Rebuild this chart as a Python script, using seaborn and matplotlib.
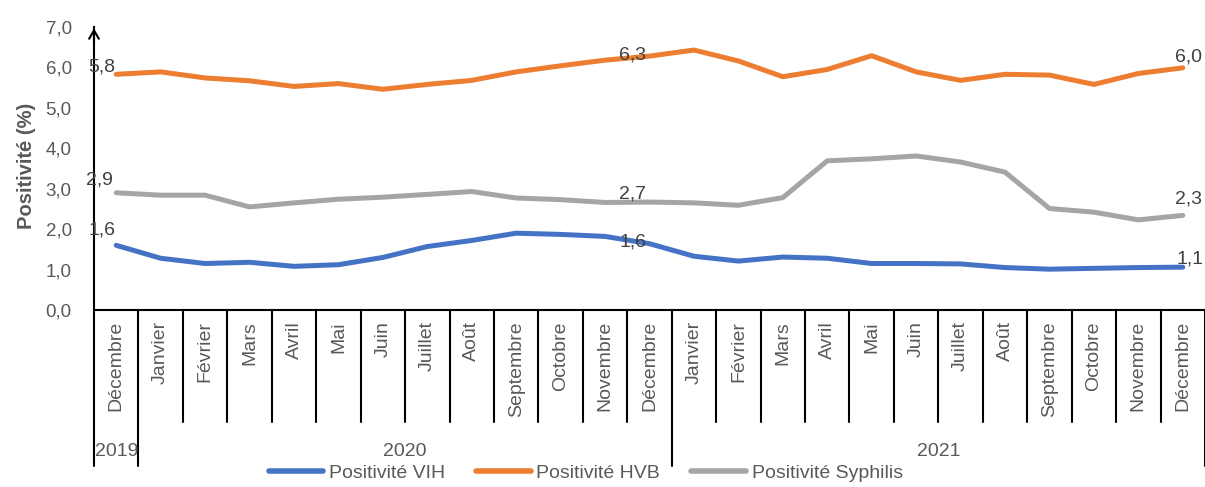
import matplotlib
matplotlib.use("Agg")
import matplotlib.pyplot as plt
import numpy as np
import pandas as pd
import seaborn as sns
from matplotlib.lines import Line2D
from matplotlib.ticker import FuncFormatter

# ---------------- data ----------------
months = ["Décembre",
          "Janvier", "Février", "Mars", "Avril", "Mai", "Juin", "Juillet",
          "Août", "Septembre", "Octobre", "Novembre", "Décembre",
          "Janvier", "Février", "Mars", "Avril", "Mai", "Juin", "Juillet",
          "Août", "Septembre", "Octobre", "Novembre", "Décembre"]
years = ["2019", "2020", "2021"]
year_spans = [1, 12, 12]

vih = [1.60, 1.28, 1.15, 1.18, 1.08, 1.12, 1.30, 1.57, 1.72, 1.90, 1.87, 1.82,
       1.64, 1.33, 1.21, 1.31, 1.28, 1.15, 1.15, 1.14, 1.05, 1.01, 1.03, 1.05, 1.06]
hvb = [5.83, 5.89, 5.74, 5.67, 5.53, 5.60, 5.46, 5.58, 5.68, 5.89, 6.04, 6.18,
       6.28, 6.43, 6.16, 5.77, 5.95, 6.29, 5.89, 5.68, 5.83, 5.81, 5.58, 5.85, 5.99]
syph = [2.90, 2.84, 2.84, 2.55, 2.65, 2.74, 2.79, 2.86, 2.93, 2.77, 2.73, 2.66,
        2.67, 2.65, 2.59, 2.78, 3.69, 3.74, 3.81, 3.66, 3.41, 2.51, 2.42, 2.23, 2.34]

series_names = ["Positivité VIH", "Positivité HVB", "Positivité Syphilis"]
label_idx = [0, 12, 24]
y_ticks = [0, 1, 2, 3, 4, 5, 6, 7]

# ---------------- style ----------------
colors = {"Positivité VIH": "#4472C4",
          "Positivité HVB": "#ED7D31",
          "Positivité Syphilis": "#A5A5A5"}
# label offsets in pixels (dx, dy, ha) per series and label index
label_style = {
    "Positivité VIH": {0: (-1, 15, "right"), 12: (-3, 2, "right"), 24: (-6, 8, "left")},
    "Positivité HVB": {0: (-1, 7, "right"), 12: (-3, 1, "right"), 24: (-8, 11, "left")},
    "Positivité Syphilis": {0: (-3, 13, "right"), 12: (-3, 8, "right"), 24: (-8, 16, "left")},
}

sns.set_style("white")
plt.rcParams["font.family"] = ["Liberation Sans", "DejaVu Sans"]

values = [vih, hvb, syph]
df = pd.concat([pd.DataFrame({"pos": np.arange(len(months)), "val": v, "serie": n})
                for n, v in zip(series_names, values)], ignore_index=True)

W, H = 1205, 487
fig = plt.figure(figsize=(W / 100, H / 100), dpi=100)
ax_l, ax_b, ax_w, ax_h = 94, 310, 1111, 283
ax = fig.add_axes([ax_l / W, 1 - ax_b / H, ax_w / W, ax_h / H])

sns.lineplot(data=df, x="pos", y="val", hue="serie", palette=colors,
             linewidth=3.6, ax=ax, legend=False, sort=False,
             solid_capstyle="round", solid_joinstyle="round")

ax.set_xlim(-0.5, len(months) - 0.5)
ax.set_ylim(0, 7)
ax.set_yticks(y_ticks)
ax.yaxis.set_major_formatter(FuncFormatter(lambda v, p: f"{v:.1f}".replace(".", ",")))
ax.tick_params(axis="y", colors="black", labelcolor="#595959", labelsize=13.5,
               length=5, width=1.5, direction="out", pad=11)
ax.set_xticks(range(len(months)))
ax.set_xticklabels(months, rotation=90, fontsize=14, color="#595959")
ax.tick_params(axis="x", length=0, pad=8)
ax.set_xlabel("")
ax.set_ylabel("Positivité (%)", fontsize=14.5, fontweight="bold", color="#595959")
ax.yaxis.set_label_coords(-0.052, 0.51)

for s in ["top", "right"]:
    ax.spines[s].set_visible(False)
for s in ["left", "bottom"]:
    ax.spines[s].set_color("black")
    ax.spines[s].set_linewidth(1.5)

# arrow on y axis
ax.annotate("", xy=(0, 1.005), xytext=(0, 0.93), xycoords="axes fraction",
            arrowprops=dict(arrowstyle="->,head_width=0.35,head_length=0.6",
                            color="black", lw=1.5))

# category separators
xtrans = ax.get_xaxis_transform()
month_bottom = -(422 - ax_b) / ax_h
year_bottom = -(466 - ax_b) / ax_h
year_bounds = np.cumsum([0] + year_spans)
for k in range(len(months) + 1):
    bottom = year_bottom if k in year_bounds else month_bottom
    ax.plot([k - 0.5, k - 0.5], [0, bottom], transform=xtrans, clip_on=False,
            color="black", lw=1.5)

# year labels
for i, yr in enumerate(years):
    center = (year_bounds[i] + year_bounds[i + 1]) / 2 - 0.5
    ax.text(center, -(451 - ax_b) / ax_h, yr, transform=xtrans, ha="center",
            va="center", fontsize=14, color="#595959")

# data labels
for name, v in zip(series_names, values):
    for i in label_idx:
        dx, dy, ha = label_style[name][i]
        ax.annotate(f"{v[i]:.1f}".replace(".", ","), xy=(i, v[i]),
                    xytext=(dx, dy), textcoords="offset pixels",
                    ha=ha, va="center", fontsize=14, color="#404040")

# legend
handles = [Line2D([0], [0], color=colors[n], lw=4, solid_capstyle="round")
           for n in series_names]
leg = fig.legend(handles, series_names, loc="center", bbox_to_anchor=(0.486, 0.029),
                 ncol=3, frameon=False, fontsize=14, handlelength=2.8,
                 handletextpad=0.3, columnspacing=1.6, borderpad=0)
for t in leg.get_texts():
    t.set_color("#595959")

fig.savefig("out.png", dpi=100)
